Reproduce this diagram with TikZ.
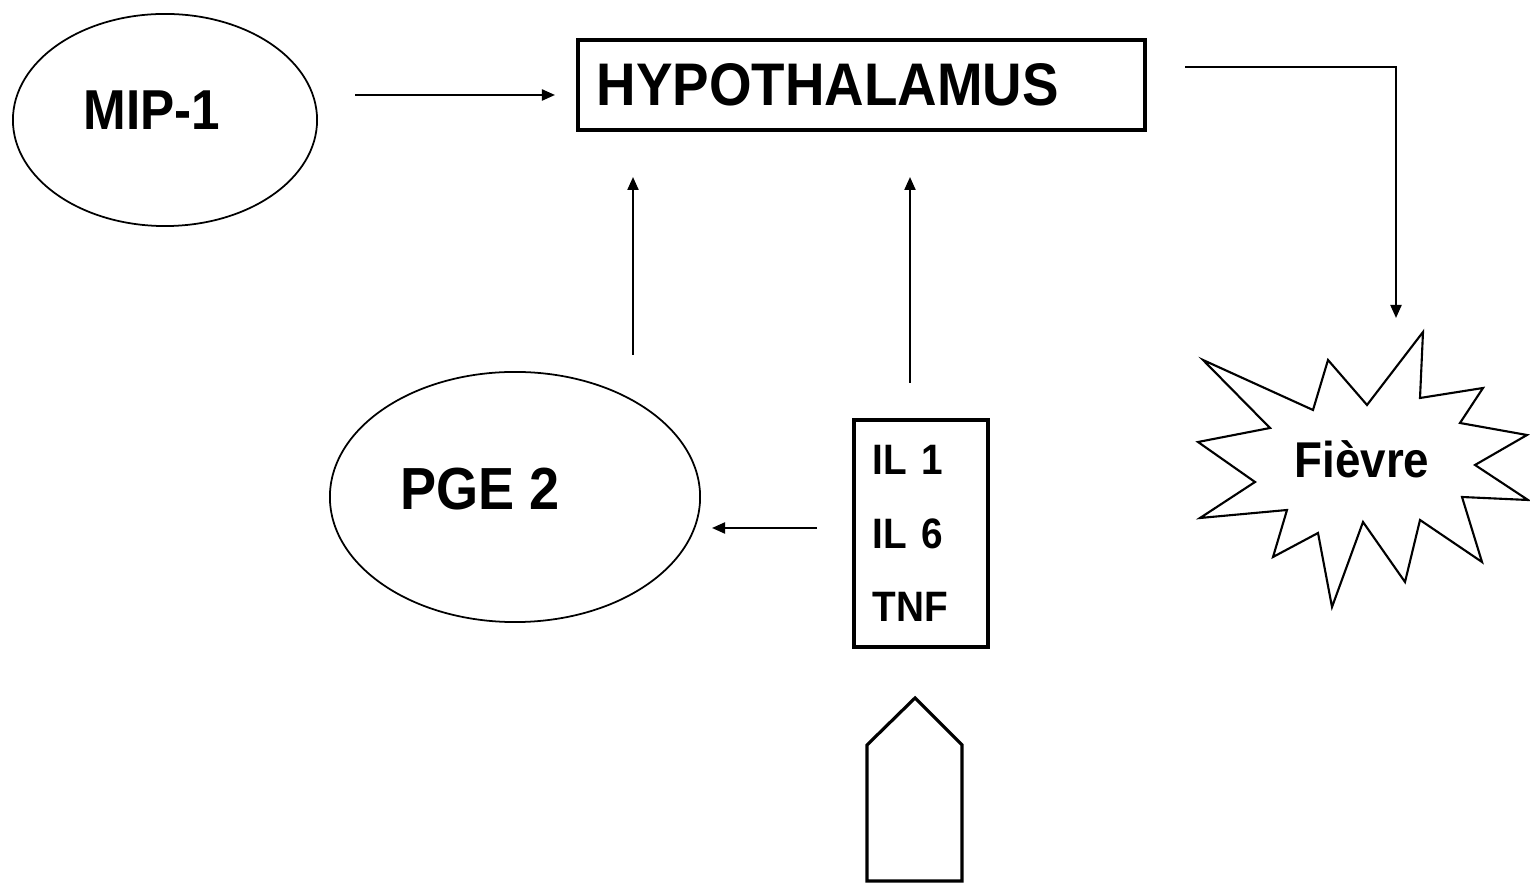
\documentclass[tikz,border=0pt]{standalone}
\usepackage{fontspec}
\setmainfont{Liberation Sans}[FakeStretch=0.91]
\usetikzlibrary{arrows.meta, shapes.geometric}

\begin{document}
\begin{tikzpicture}[
        x=0.01cm, y=-0.01cm,
        font=\bfseries,
        oval/.style={draw, ellipse, line width=0.5pt, inner sep=0pt},
        box/.style={draw, rectangle, line width=1pt},
        arr/.style={-{Triangle[length=0.13cm, width=0.11cm]}, line width=0.6pt}
      ]
        \useasboundingbox (0,0) rectangle (1530,883);

        % ovals and boxes
        \node[oval, minimum width=3.04cm, minimum height=2.12cm] (mip) at (165,120) {};
        \node[font=\fontsize{16}{19}\selectfont\bfseries] (miptxt) at (152,110) {MIP-1};
        \node[oval, minimum width=3.70cm, minimum height=2.50cm] (pge) at (515,497) {};
        \node[font=\fontsize{16.9}{20}\selectfont\bfseries] (pgetxt) at (480,489) {PGE 2};
        \node[box, minimum width=5.67cm, minimum height=0.9cm, text width=5.29cm, inner xsep=0.19cm,
              align=left, font=\fontsize{17.1}{20}\selectfont\bfseries] (hypo) at (861.5,85) {HYPOTHALAMUS};
        \node[box, line width=0.9pt, minimum width=1.34cm, minimum height=2.27cm, text width=0.96cm,
              inner xsep=0.19cm, align=left, font=\fontsize{12.1}{21}\selectfont\bfseries] (il) at (921,533.5)
              {IL 1\\IL 6\\TNF};

        % star
        \draw[line width=0.6pt] (1203,360) -- (1313,410) -- (1328,360) -- (1367,405) -- (1423,332)
            -- (1420,398) -- (1483,388) -- (1460,423) -- (1527,435) -- (1475,465) -- (1528,500)
            -- (1462,497) -- (1482,562) -- (1420,520) -- (1405,582) -- (1363,522) -- (1332,607)
            -- (1318,533) -- (1273,557) -- (1287,510) -- (1200,518) -- (1255,482) -- (1198,442)
            -- (1270,428) -- cycle;
        \node[font=\fontsize{14.3}{17}\selectfont\bfseries] (fievre) at (1362,459) {Fièvre};

        % block arrow
        \draw[line width=0.9pt] (867,881) -- (867,745) -- (915,698) -- (962,745) -- (962,881) -- cycle;

        % connectors
        \coordinate (mipout) at (355,95);
        \coordinate (hypoin) at (555,95);
        \coordinate (hypoout) at (1185,67);
        \coordinate (hypocorner) at (1396,67);
        \coordinate (fievrein) at (1396,318);
        \coordinate (pgeout) at (633,355);
        \coordinate (hypoinl) at (633,177);
        \coordinate (ilout) at (910,383);
        \coordinate (hypoinr) at (910,177);
        \coordinate (ilside) at (817,528);
        \coordinate (pgein) at (712,528);

        \draw[arr] (mipout) -- (hypoin);
        \draw[arr] (hypoout) -- (hypocorner) -- (fievrein);
        \draw[arr] (pgeout) -- (hypoinl);
        \draw[arr] (ilout) -- (hypoinr);
        \draw[arr] (ilside) -- (pgein);
    \end{tikzpicture}
\end{document}
